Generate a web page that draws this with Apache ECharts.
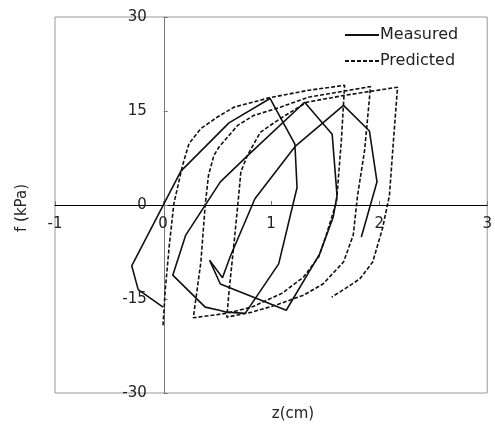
<!DOCTYPE html>
<html>
<head>
<meta charset="utf-8">
<script src="https://cdn.jsdelivr.net/npm/echarts@6/dist/echarts.min.js"></script>
<style>
  html, body { margin: 0; padding: 0; background: #fff; }
  #chart { width: 495px; height: 425px; }
</style>
</head>
<body>
<div id="chart"></div>
<script>
  // measured hysteresis (solid)
  var measuredZ = [0, -0.23, -0.29, 0.165, 0.61, 0.99, 1.22, 1.24, 1.07, 0.76, 0.59, 0.52, 0.39, 0.09, 0.21,
                   0.53, 0.79, 1.31, 1.565, 1.61, 1.575, 1.45, 1.14, 0.53, 0.43, 0.55, 0.62, 0.85, 1.22, 1.67,
                   1.91, 1.98, 1.835];
  var measuredF = [-16.3, -13.5, -9.7, 5.4, 13.1, 17.0, 9.7, 2.8, -9.4, -17.3, -17.1, -16.8, -16.3, -11.2, -4.8,
                   3.7, 8.0, 16.4, 11.3, 1.5, -1.9, -7.8, -16.8, -12.6, -8.8, -11.6, -8.3, 1.0, 9.3, 15.9,
                   11.8, 3.7, -5.1];

  // predicted hysteresis (dashed)
  var predictedZ = [0, 0.02, 0.058, 0.10, 0.18, 0.24, 0.35, 0.50, 0.655, 0.98, 1.345, 1.68,
                    1.65, 1.605, 1.51, 1.44, 1.30, 1.10, 0.82, 0.58, 0.28,
                    0.35, 0.39, 0.42, 0.47, 0.52, 0.56, 0.69, 0.84, 1.085, 1.345, 1.92,
                    1.865, 1.80, 1.76, 1.67, 1.48, 1.30, 1.04, 0.82, 0.59,
                    0.61, 0.655, 0.70, 0.72, 0.78, 0.90, 1.085, 1.33, 1.68, 2.17,
                    2.13, 2.095, 2.03, 1.94, 1.82, 1.68, 1.56];
  var predictedF = [-19.2, -13.6, -6.4, 0.2, 6.3, 9.8, 12.2, 14.0, 15.6, 17.1, 18.3, 19.1,
                    10.3, 0.5, -4.8, -8.3, -11.5, -14.1, -16.3, -17.3, -18.0,
                    -9.1, 0, 4.7, 7.9, 9.3, 10.1, 12.7, 14.3, 15.6, 17.2, 18.9,
                    8.7, 1.5, -4.8, -9.1, -12.6, -14.4, -16.0, -17.1, -17.9,
                    -13.9, -6.4, 1.5, 5.3, 7.9, 11.6, 13.8, 16.4, 17.5, 18.8,
                    9.8, 1.5, -3.8, -9.1, -11.8, -13.4, -14.7];

  var zTicks = [-1, 0, 1, 2, 3];
  var fTicks = [-30, -15, 0, 15, 30];

  function pairs(xs, ys) {
    var out = [];
    for (var i = 0; i < xs.length; i++) out.push([xs[i], ys[i]]);
    return out;
  }

  var font = 'DejaVu Sans';
  var gridLeft = 55, gridRight = 5, gridTop = 17, gridBottom = 32;
  var gridW = 495 - gridLeft - gridRight, gridH = 425 - gridTop - gridBottom;
  // shift the axes (with their labels) onto the zero lines
  var xOffset = -gridH * (0 - fTicks[0]) / (fTicks[fTicks.length - 1] - fTicks[0]);
  var yOffset = -gridW * (0 - zTicks[0]) / (zTicks[zTicks.length - 1] - zTicks[0]);

  var chart = echarts.init(document.getElementById('chart'));
  var option = {
    animation: false,
    textStyle: { fontFamily: font },
    grid: {
      left: gridLeft, right: gridRight, top: gridTop, bottom: gridBottom,
      show: true, borderColor: '#9a9a9a', borderWidth: 1,
      containLabel: false
    },
    legend: {
      orient: 'vertical',
      left: 339, top: 22,
      itemWidth: 34, itemHeight: 18, itemGap: 10,
      itemStyle: { opacity: 0 },
      textStyle: { fontFamily: font, fontSize: 16, color: '#222', padding: [0, 0, 0, -4] },
      data: ['Measured', 'Predicted']
    },
    xAxis: {
      type: 'value',
      min: zTicks[0], max: zTicks[zTicks.length - 1], interval: 1,
      offset: xOffset,
      axisLine: { onZero: false, lineStyle: { color: '#000', width: 1 } },
      axisTick: { inside: true, length: 4, lineStyle: { color: '#777' } },
      axisLabel: { margin: 12, fontSize: 15, color: '#222', fontFamily: font,
        showMinLabel: true, showMaxLabel: true },
      splitLine: { show: false }
    },
    yAxis: {
      type: 'value',
      min: fTicks[0], max: fTicks[fTicks.length - 1], interval: 15,
      offset: yOffset,
      axisLine: { onZero: false, lineStyle: { color: '#777', width: 1 } },
      axisTick: { inside: true, length: 4, lineStyle: { color: '#777' } },
      axisLabel: { margin: 17, fontSize: 15, color: '#222', fontFamily: font,
        showMinLabel: true, showMaxLabel: true },
      splitLine: { show: false }
    },
    graphic: [
      { type: 'text', x: 22, y: 208, rotation: Math.PI / 2,
        style: { text: 'f (kPa)', font: '15px "DejaVu Sans"', fill: '#222', align: 'center', verticalAlign: 'middle' } },
      { type: 'text', x: 293, y: 414,
        style: { text: 'z(cm)', font: '15px "DejaVu Sans"', fill: '#222', align: 'center', verticalAlign: 'middle' } }
    ],
    series: [
      {
        name: 'Measured', type: 'line', showSymbol: false, symbol: 'none',
        data: pairs(measuredZ, measuredF),
        lineStyle: { color: '#111', width: 1.6, type: 'solid' },
        itemStyle: { color: '#111' }
      },
      {
        name: 'Predicted', type: 'line', showSymbol: false, symbol: 'none',
        data: pairs(predictedZ, predictedF),
        lineStyle: { color: '#111', width: 1.6, type: [4, 2] },
        itemStyle: { color: '#111' }
      }
    ]
  };
  chart.setOption(option);
</script>
</body>
</html>
